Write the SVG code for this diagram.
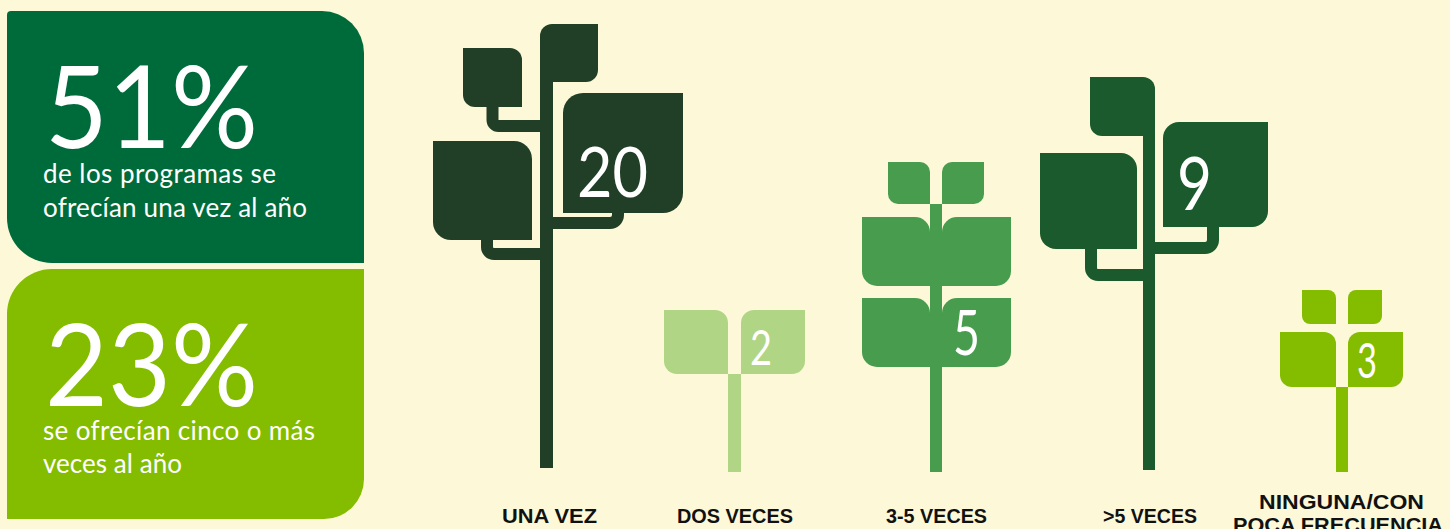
<svg xmlns="http://www.w3.org/2000/svg" width="1450" height="529" viewBox="0 0 1450 529">
<style>
.big{font-family:Lato,"Liberation Sans",sans-serif;font-weight:400;fill:#fff;font-size:114px}
.sub{font-family:Lato,"Liberation Sans",sans-serif;fill:#fff;font-size:26px}
.num{font-family:Lato,"Liberation Sans",sans-serif;fill:#fff}
.lbl{font-family:"Liberation Sans",Arial,sans-serif;font-weight:bold;fill:#111;font-size:20px}
.br{fill:none;stroke-width:12}
</style>
<rect width="1450" height="529" fill="#fdf9d8"/>
<g id="box-51">
<path d="M11,11 H322 A42 42 0 0 1 364,53 V263 H52 A45 45 0 0 1 7,218 V15 A4 4 0 0 1 11,11 Z" fill="#006b3a"/>
<text class="big" x="45" y="148" textLength="213" lengthAdjust="spacingAndGlyphs">51%</text>
<text class="sub" x="43" y="183" textLength="233">de los programas se</text>
<text class="sub" x="43" y="217" textLength="264">ofrecían una vez al año</text>
</g>
<g id="box-23">
<path d="M52,269 H364 V479 A40 40 0 0 1 324,519 H7 V314 A45 45 0 0 1 52,269 Z" fill="#84bc00"/>
<text class="big" x="45" y="406" textLength="213" lengthAdjust="spacingAndGlyphs">23%</text>
<text class="sub" x="43" y="440" textLength="272">se ofrecían cinco o más</text>
<text class="sub" x="43" y="473" textLength="139">veces al año</text>
</g>
<g id="plant-una-vez" fill="#213f27" stroke="#213f27">
<rect x="540" y="60" width="13" height="408" stroke="none"/>
<path d="M552,24 H598 V70 A12 12 0 0 1 586,82 H540 V36 A12 12 0 0 1 552,24 Z" stroke="none"/>
<path d="M463,48 H510 A12 12 0 0 1 522,60 V107 H475 A12 12 0 0 1 463,95 Z" stroke="none"/>
<path class="br" d="M492.5,106 V120 A6 6 0 0 0 498.5,126 H541"/>
<path d="M583,93 H683 V193 A20 20 0 0 1 663,213 H563 V113 A20 20 0 0 1 583,93 Z" stroke="none"/>
<path class="br" d="M618,212 V215 A8 8 0 0 1 610,223 H552"/>
<path d="M433,141 H514 A18 18 0 0 1 532,159 V240 H451 A18 18 0 0 1 433,222 Z" stroke="none"/>
<path class="br" d="M487,239 V247 A7 7 0 0 0 494,254 H541"/>
<text class="num" x="577" y="197" font-size="70" textLength="71" lengthAdjust="spacingAndGlyphs" stroke="none">20</text>
<text class="lbl" x="502" y="523" textLength="95" lengthAdjust="spacingAndGlyphs" stroke="none">UNA VEZ</text>
</g>
<g id="plant-dos-veces" fill="#b0d585">
<path d="M664,310 H715 A13 13 0 0 1 728,323 V374 H677 A13 13 0 0 1 664,361 Z"/>
<path d="M754,310 H805 V361 A13 13 0 0 1 792,374 H741 V323 A13 13 0 0 1 754,310 Z"/>
<rect x="728" y="374" width="13" height="98"/>
<text class="num" x="750" y="365" font-size="48" textLength="22" lengthAdjust="spacingAndGlyphs">2</text>
<text class="lbl" x="677" y="523" textLength="116" lengthAdjust="spacingAndGlyphs">DOS VECES</text>
</g>
<g id="plant-3-5-veces" fill="#479d4d">
<path d="M888,162 H920 A10 10 0 0 1 930,172 V204 H898 A10 10 0 0 1 888,194 Z"/>
<path d="M952,162 H984 V194 A10 10 0 0 1 974,204 H942 V172 A10 10 0 0 1 952,162 Z"/>
<rect x="930" y="204" width="12" height="268"/>
<path d="M862,217 H915 A15 15 0 0 1 930,232 V286 H877 A15 15 0 0 1 862,271 Z"/>
<path d="M957,217 H1011 V271 A15 15 0 0 1 996,286 H942 V232 A15 15 0 0 1 957,217 Z"/>
<path d="M862,298 H915 A15 15 0 0 1 930,313 V367 H877 A15 15 0 0 1 862,352 Z"/>
<path d="M957,298 H1011 V352 A15 15 0 0 1 996,367 H942 V313 A15 15 0 0 1 957,298 Z"/>
<text class="num" x="953" y="355" font-size="62" textLength="27" lengthAdjust="spacingAndGlyphs">5</text>
<text class="lbl" x="886" y="523" textLength="101" lengthAdjust="spacingAndGlyphs">3-5 VECES</text>
</g>
<g id="plant-mas-5-veces" fill="#1b5a2c" stroke="#1b5a2c">
<path d="M1090,77 H1143 A12 12 0 0 1 1155,89 V136 H1102 A12 12 0 0 1 1090,124 Z" stroke="none"/>
<rect x="1143" y="130" width="12" height="340" stroke="none"/>
<path d="M1040,153 H1121 A16 16 0 0 1 1137,169 V249 H1056 A16 16 0 0 1 1040,233 Z" stroke="none"/>
<path class="br" d="M1091,248 V268 A7 7 0 0 0 1098,275 H1144"/>
<path d="M1179,122 H1268 V211 A16 16 0 0 1 1252,227 H1163 V138 A16 16 0 0 1 1179,122 Z" stroke="none"/>
<path class="br" d="M1213,226 V240 A8 8 0 0 1 1205,248 H1154"/>
<text class="num" x="1177" y="210" font-size="74" textLength="35" lengthAdjust="spacingAndGlyphs" stroke="none">9</text>
<text class="lbl" x="1103" y="523" textLength="94" lengthAdjust="spacingAndGlyphs" stroke="none">&gt;5 VECES</text>
</g>
<g id="plant-ninguna" fill="#84bc00">
<path d="M1302,290 H1328 A8 8 0 0 1 1336,298 V324 H1310 A8 8 0 0 1 1302,316 Z"/>
<path d="M1356,290 H1382 V316 A8 8 0 0 1 1374,324 H1348 V298 A8 8 0 0 1 1356,290 Z"/>
<path d="M1280,332 H1324 A12 12 0 0 1 1336,344 V387 H1292 A12 12 0 0 1 1280,375 Z"/>
<path d="M1360,332 H1403 V375 A12 12 0 0 1 1391,387 H1348 V344 A12 12 0 0 1 1360,332 Z"/>
<rect x="1336" y="387" width="12" height="85"/>
<text class="num" x="1357" y="378" font-size="48" textLength="20" lengthAdjust="spacingAndGlyphs">3</text>
<text class="lbl" x="1259" y="509" textLength="165" lengthAdjust="spacingAndGlyphs">NINGUNA/CON</text>
<text class="lbl" x="1233" y="532" textLength="210" lengthAdjust="spacingAndGlyphs">POCA FRECUENCIA</text>
</g>
</svg>
